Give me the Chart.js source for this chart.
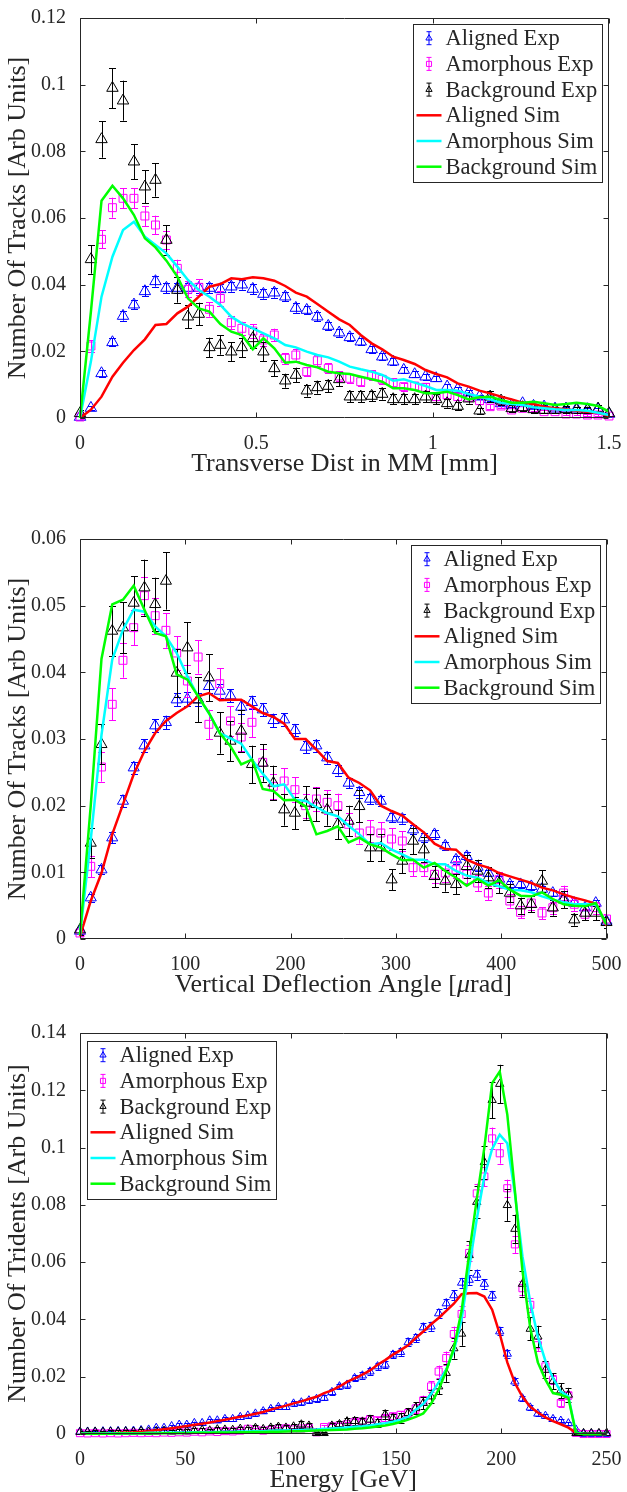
<!DOCTYPE html>
<html>
<head>
<meta charset="utf-8">
<script src="https://cdn.jsdelivr.net/npm/chart.js@4.4.0/dist/chart.umd.min.js"></script>
<style>
html,body{margin:0;padding:0;background:#fff;width:627px;height:1492px;overflow:hidden}
canvas{position:absolute;left:0;display:block}
</style>
</head>
<body>
<canvas id="c1" width="627" height="500" style="top:0"></canvas>
<canvas id="c2" width="627" height="500" style="top:500px"></canvas>
<canvas id="c3" width="627" height="492" style="top:1000px"></canvas>
<script>
// ---------------- Panel 1 data : Transverse distance ----------------
const transDist = [0,0.031,0.061,0.092,0.122,0.153,0.184,0.214,0.245,0.276,0.306,0.337,0.367,0.398,0.429,0.459,0.490,0.520,0.551,0.582,0.612,0.643,0.673,0.704,0.735,0.765,0.796,0.827,0.857,0.888,0.918,0.949,0.980,1.010,1.041,1.071,1.102,1.133,1.163,1.194,1.224,1.255,1.286,1.316,1.347,1.378,1.408,1.439,1.469,1.5];
const alignedExp1 = [0.0003,0.003,0.0134,0.0227,0.0306,0.034,0.038,0.041,0.039,0.039,0.039,0.039,0.039,0.0386,0.0394,0.040,0.0387,0.0372,0.0376,0.0364,0.033,0.0324,0.0304,0.0276,0.0256,0.0242,0.0229,0.0206,0.0184,0.0169,0.0144,0.0131,0.0124,0.0119,0.0094,0.0086,0.0076,0.0064,0.0056,0.0044,0.0038,0.0044,0.0036,0.0034,0.0028,0.0028,0.0028,0.0026,0.0026,0.0012];
const alignedErr1 = [0.0003,0.0006,0.001,0.0012,0.0014,0.0014,0.0015,0.0016,0.0015,0.0015,0.0015,0.0015,0.0015,0.0015,0.0015,0.0015,0.0015,0.0014,0.0015,0.0014,0.0014,0.0013,0.0013,0.0013,0.0012,0.0012,0.0011,0.0011,0.001,0.001,0.0009,0.0009,0.0009,0.0008,0.0008,0.0007,0.0007,0.0006,0.0006,0.0005,0.0005,0.0005,0.0005,0.0005,0.0004,0.0004,0.0004,0.0004,0.0004,0.0003];
const amorphExp1 = [0.0003,0.0216,0.0536,0.0631,0.0659,0.0659,0.0606,0.0579,0.0534,0.0449,0.0386,0.0392,0.0326,0.0359,0.0286,0.0269,0.0261,0.0234,0.0249,0.0179,0.0189,0.0139,0.0172,0.0149,0.0126,0.0119,0.0109,0.0129,0.0116,0.0106,0.0094,0.0096,0.0092,0.0064,0.0069,0.0064,0.0062,0.0052,0.0034,0.0036,0.0024,0.0029,0.0029,0.0019,0.0019,0.0012,0.0012,0.0009,0.0009,0.0006];
const amorphErr1 = [0.0005,0.0018,0.0027,0.003,0.003,0.003,0.003,0.0028,0.0028,0.0026,0.0024,0.0024,0.0022,0.0023,0.002,0.002,0.002,0.0019,0.0019,0.0016,0.0017,0.0014,0.0016,0.0015,0.0014,0.0013,0.0013,0.0014,0.0013,0.0013,0.0012,0.0012,0.0012,0.001,0.001,0.001,0.001,0.0009,0.0007,0.0007,0.0006,0.0007,0.0007,0.0005,0.0005,0.0004,0.0004,0.0004,0.0004,0.0003];
const bgExp1 = [0.0014,0.0476,0.0836,0.099,0.0952,0.0769,0.0694,0.0714,0.0534,0.0384,0.0304,0.0312,0.0212,0.0219,0.0199,0.0212,0.0239,0.0199,0.0149,0.0112,0.0129,0.0082,0.0092,0.0096,0.0116,0.0064,0.0064,0.0066,0.0072,0.0056,0.0056,0.0056,0.0064,0.0056,0.0044,0.0036,0.0058,0.0022,0.0064,0.0052,0.0029,0.0032,0.0026,0.0024,0.0024,0.0026,0.0024,0.0024,0.0028,0.0014];
const bgErr1 = [0.001,0.0043,0.0055,0.006,0.006,0.0052,0.005,0.005,0.0044,0.0038,0.0034,0.0034,0.0029,0.0029,0.0028,0.0029,0.003,0.0028,0.0024,0.0021,0.0022,0.0018,0.0019,0.0019,0.0021,0.0016,0.0016,0.0016,0.0017,0.0015,0.0015,0.0015,0.0016,0.0015,0.0013,0.0012,0.0015,0.0009,0.0016,0.0014,0.0011,0.0011,0.001,0.001,0.001,0.001,0.001,0.001,0.0011,0.0008];
const alignedSim1 = [0,0.0025,0.0064,0.0124,0.0166,0.0204,0.0236,0.0279,0.0282,0.0314,0.0334,0.0364,0.0394,0.0402,0.0419,0.0416,0.0422,0.0419,0.0412,0.0396,0.0376,0.0364,0.0342,0.0319,0.0296,0.0279,0.0249,0.0224,0.0206,0.0184,0.0174,0.0162,0.0144,0.0132,0.0122,0.0104,0.0094,0.0082,0.0074,0.0064,0.0056,0.0046,0.0042,0.0034,0.0029,0.0026,0.0022,0.0019,0.0016,0.0006];
const amorphSim1 = [0,0.017,0.0364,0.0484,0.0564,0.0589,0.0544,0.0519,0.0494,0.0454,0.0414,0.0384,0.0364,0.0339,0.0304,0.0284,0.0269,0.0254,0.0239,0.0219,0.0212,0.0199,0.0189,0.0182,0.0169,0.0154,0.0146,0.0139,0.0129,0.0112,0.0116,0.0106,0.0096,0.0084,0.0084,0.0082,0.0072,0.0064,0.0056,0.0046,0.0042,0.0039,0.0032,0.0029,0.0026,0.0024,0.0024,0.0022,0.0016,0.0009];
const bgSim1 = [0,0.032,0.0652,0.0697,0.0659,0.0609,0.0539,0.0512,0.0472,0.0424,0.0359,0.0329,0.0319,0.0282,0.0259,0.0249,0.0206,0.0239,0.0209,0.0166,0.0169,0.0159,0.0152,0.0139,0.0134,0.0132,0.0124,0.0116,0.0109,0.0089,0.0089,0.0084,0.0074,0.0074,0.0079,0.0069,0.0056,0.0062,0.0064,0.0054,0.0046,0.0046,0.0049,0.0044,0.0039,0.0042,0.0046,0.0042,0.0036,0.0019];
const xTicks1 = [0,0.5,1,1.5];
const xTickLabels1 = ['0','0.5','1','1.5'];
const yTicks1 = [0,0.02,0.04,0.06,0.08,0.1,0.12];
const yTickLabels1 = ['0','0.02','0.04','0.06','0.08','0.1','0.12'];

// ---------------- Panel 2 data : Vertical deflection angle ----------------
const deflAngle = [0,10.2,20.4,30.6,40.8,51.0,61.2,71.4,81.6,91.8,102.0,112.2,122.4,132.7,142.9,153.1,163.3,173.5,183.7,193.9,204.1,214.3,224.5,234.7,244.9,255.1,265.3,275.5,285.7,295.9,306.1,316.3,326.5,336.7,346.9,357.1,367.3,377.6,387.8,398.0,408.2,418.4,428.6,438.8,449.0,459.2,469.4,479.6,489.8,500];
const alignedExp2 = [0.0012,0.0062,0.0104,0.0152,0.0207,0.0257,0.029,0.032,0.0325,0.0359,0.036,0.0359,0.0379,0.0372,0.0365,0.0348,0.0355,0.0344,0.0328,0.0329,0.0313,0.0288,0.029,0.0272,0.0253,0.0234,0.022,0.021,0.0207,0.0182,0.018,0.0164,0.0152,0.0157,0.014,0.0119,0.0124,0.0108,0.0099,0.009,0.0082,0.0082,0.0079,0.0075,0.0069,0.0062,0.0054,0.0047,0.0054,0.0027];
const alignedErr2 = [0.0004,0.0006,0.0007,0.0008,0.0009,0.0009,0.001,0.001,0.001,0.001,0.001,0.001,0.001,0.001,0.001,0.001,0.001,0.001,0.001,0.001,0.0009,0.0009,0.0009,0.0009,0.0008,0.0008,0.0008,0.0008,0.0008,0.0007,0.0007,0.0007,0.0007,0.0007,0.0006,0.0006,0.0006,0.0006,0.0005,0.0005,0.0005,0.0005,0.0005,0.0005,0.0005,0.0004,0.0004,0.0004,0.0004,0.0003];
const amorphExp2 = [0.0009,0.0109,0.0258,0.0352,0.0418,0.0467,0.0515,0.0485,0.0463,0.0429,0.0387,0.0423,0.0322,0.0383,0.0327,0.0303,0.0325,0.0265,0.0229,0.0237,0.0224,0.02,0.021,0.0205,0.02,0.0172,0.0159,0.0162,0.0159,0.015,0.0147,0.0107,0.0107,0.0097,0.0099,0.0104,0.0097,0.0084,0.0069,0.0089,0.0057,0.004,0.0054,0.0039,0.0047,0.0069,0.0052,0.0037,0.0047,0.003];
const amorphErr2 = [0.0005,0.0016,0.0022,0.0024,0.0026,0.0026,0.0028,0.0027,0.0026,0.0025,0.0024,0.0025,0.0022,0.0023,0.0022,0.0021,0.0022,0.002,0.0019,0.0019,0.0019,0.0018,0.0018,0.0018,0.0018,0.0017,0.0016,0.0016,0.0016,0.0016,0.0015,0.0013,0.0013,0.0013,0.0013,0.0013,0.0013,0.0012,0.0011,0.0012,0.001,0.0009,0.001,0.0009,0.0009,0.0011,0.001,0.0008,0.0009,0.0008];
const bgExp2 = [0.0014,0.0144,0.0292,0.0462,0.0467,0.0504,0.0527,0.0502,0.0537,0.0399,0.0437,0.0359,0.0392,0.0309,0.0297,0.0312,0.0262,0.0264,0.0234,0.0194,0.0189,0.0204,0.0202,0.0194,0.0172,0.0177,0.0199,0.0137,0.0137,0.0089,0.0117,0.0147,0.0134,0.0094,0.0087,0.0082,0.0109,0.0102,0.0092,0.0084,0.0069,0.005,0.0052,0.0087,0.0047,0.0059,0.0029,0.0039,0.0039,0.0025];
const bgErr2 = [0.0008,0.0022,0.003,0.0038,0.0038,0.004,0.0042,0.004,0.0043,0.0036,0.0038,0.0034,0.0035,0.0031,0.003,0.0031,0.0028,0.0028,0.0026,0.0024,0.0024,0.0025,0.0025,0.0024,0.0022,0.0023,0.0024,0.002,0.002,0.0016,0.0018,0.002,0.0019,0.0016,0.0016,0.0015,0.0017,0.0017,0.0016,0.0015,0.0014,0.0012,0.0012,0.0016,0.0012,0.0013,0.0009,0.0011,0.0011,0.0008];
const alignedSim2 = [0.0004,0.0057,0.0099,0.0157,0.0202,0.0247,0.0282,0.0309,0.0327,0.0339,0.0349,0.0364,0.0369,0.0358,0.0359,0.0359,0.0349,0.0339,0.0333,0.0323,0.03,0.03,0.0284,0.0267,0.0264,0.0242,0.0234,0.0223,0.02,0.0192,0.0185,0.0172,0.016,0.0143,0.0135,0.0134,0.0119,0.0112,0.0107,0.0099,0.0094,0.0089,0.0084,0.0077,0.0073,0.0067,0.0062,0.0058,0.0053,0.002];
const amorphSim2 = [0.0006,0.0149,0.0306,0.0419,0.0464,0.0494,0.0491,0.0469,0.0454,0.0429,0.0394,0.0364,0.0339,0.0309,0.0301,0.0293,0.0269,0.0248,0.0229,0.0232,0.0209,0.0207,0.0198,0.0189,0.0184,0.017,0.0157,0.0142,0.0144,0.0134,0.0127,0.0119,0.0119,0.0112,0.0112,0.0102,0.0095,0.0092,0.0084,0.0079,0.0074,0.0073,0.007,0.0064,0.0059,0.0055,0.0052,0.0052,0.0052,0.0022];
const bgSim2 = [0.0006,0.02,0.042,0.0502,0.0509,0.053,0.0494,0.0459,0.0454,0.0397,0.0389,0.0364,0.0339,0.0309,0.0289,0.0262,0.0269,0.0225,0.0222,0.0208,0.0209,0.0199,0.0157,0.0162,0.0169,0.0145,0.0152,0.0142,0.0137,0.0127,0.0118,0.0119,0.0107,0.0114,0.0102,0.0092,0.008,0.009,0.008,0.0088,0.0074,0.0065,0.0064,0.007,0.006,0.0052,0.005,0.0049,0.0054,0.0022];
const xTicks2 = [0,100,200,300,400,500];
const xTickLabels2 = ['0','100','200','300','400','500'];
const yTicks2 = [0,0.01,0.02,0.03,0.04,0.05,0.06];
const yTickLabels2 = ['0','0.01','0.02','0.03','0.04','0.05','0.06'];

// ---------------- Panel 3 data : Energy ----------------
const energy = [0,3.6,7.2,10.9,14.5,18.1,21.7,25.4,29.0,32.6,36.2,39.9,43.5,47.1,50.7,54.3,58.0,61.6,65.2,68.8,72.5,76.1,79.7,83.3,87.0,90.6,94.2,97.8,101.4,105.1,108.7,112.3,115.9,119.6,123.2,126.8,130.4,134.1,137.7,141.3,144.9,148.6,152.2,155.8,159.4,163.0,166.7,170.3,173.9,177.5,181.2,184.8,188.4,192.0,195.7,199.3,202.9,206.5,210.1,213.8,217.4,221.0,224.6,228.3,231.9,235.5,239.1,242.8,246.4,250.0];
const alignedExp3 = [0.0008,0.0008,0.0008,0.0009,0.0009,0.001,0.001,0.0011,0.0013,0.0015,
  0.0021,0.0021,0.0027,0.0032,0.0032,0.0038,0.0038,0.0047,0.0047,0.0052,
  0.0052,0.0059,0.0064,0.0071,0.0079,0.0087,0.0094,0.0094,0.0106,0.011,
  0.0117,0.0122,0.0126,0.0146,0.0166,0.0172,0.0195,0.0204,0.0218,0.0236,
  0.0242,0.0277,0.0286,0.032,0.0335,0.0372,0.0375,0.0421,0.0456,0.0484,
  0.0528,0.0538,0.0556,0.0524,0.0483,0.0358,0.028,0.0183,0.0124,0.0092,
  0.0071,0.0063,0.0052,0.0046,0.0037,0.0015,0,0,0,0];
const alignedErr3 = [0.0003,0.0003,0.0003,0.0003,0.0003,0.0003,0.0003,0.0003,0.0004,0.0004,
  0.0004,0.0004,0.0005,0.0005,0.0005,0.0005,0.0005,0.0006,0.0006,0.0006,
  0.0006,0.0006,0.0007,0.0007,0.0007,0.0008,0.0008,0.0008,0.0008,0.0009,
  0.0009,0.0009,0.0009,0.001,0.001,0.001,0.0011,0.0011,0.0011,0.0012,
  0.0012,0.0013,0.0013,0.0014,0.0014,0.0015,0.0015,0.0016,0.0016,0.0017,
  0.0017,0.0017,0.0018,0.0017,0.0016,0.0014,0.0013,0.0011,0.0009,0.0008,
  0.0007,0.0006,0.0006,0.0005,0.0005,0.0003,0,0,0,0];
const amorphExp3 = [0.0003,0.0002,0.0003,0.0002,0.0003,0.0002,0.0003,0.0004,0.0003,0.0004,
  0.0003,0.0005,0.0004,0.0006,0.0005,0.0008,0.0006,0.0009,0.0007,0.001,
  0.0009,0.0012,0.0018,0.0015,0.0012,0.0014,0.0018,0.002,0.0016,0.0019,
  0.0021,0.0006,0.0024,0.0027,0.003,0.0034,0.0042,0.0044,0.0052,0.0048,
  0.0056,0.0062,0.0067,0.0073,0.0089,0.0117,0.0166,0.0218,0.0265,0.0349,
  0.0419,0.0632,0.084,0.0899,0.1032,0.098,0.0858,0.0662,0.0509,0.0451,
  0.031,0.0236,0.0189,0.0108,0.0135,0.0004,0,0,0,0];
const amorphErr3 = [0.0003,0.0003,0.0003,0.0003,0.0003,0.0003,0.0003,0.0003,0.0003,0.0003,
  0.0003,0.0003,0.0003,0.0004,0.0004,0.0004,0.0004,0.0004,0.0004,0.0005,
  0.0005,0.0005,0.0006,0.0006,0.0005,0.0006,0.0006,0.0007,0.0006,0.0007,
  0.0007,0.0004,0.0007,0.0008,0.0008,0.0009,0.001,0.001,0.0011,0.0011,
  0.0012,0.0012,0.0013,0.0013,0.0015,0.0017,0.0019,0.0021,0.0023,0.0026,
  0.0028,0.0028,0.0034,0.0034,0.0038,0.0036,0.003,0.003,0.0025,0.0024,
  0.002,0.0018,0.0016,0.0012,0.0013,0.0003,0,0,0,0];
const bgExp3 = [0.0007,0.0007,0.0008,0.0007,0.0008,0.0008,0.0009,0.0008,0.001,0.0008,
  0.001,0.0011,0.0009,0.0012,0.0011,0.0013,0.0014,0.0012,0.0016,0.0015,
  0.0014,0.0018,0.0016,0.0021,0.0017,0.0022,0.0025,0.0022,0.0026,0.0033,
  0.0029,0.0003,0.0003,0.0029,0.0034,0.0044,0.0045,0.0043,0.005,0.0038,
  0.0068,0.0055,0.0056,0.0073,0.0091,0.0108,0.0131,0.0166,0.0213,0.0299,
  0.035,0.0624,0.081,0.0949,0.1166,0.1222,0.0799,0.0716,0.0524,0.0367,
  0.034,0.0224,0.0184,0.0152,0.0137,0.0003,0.0003,0.0003,0.0003,0.0003];
const bgErr3 = [0.0005,0.0005,0.0005,0.0005,0.0005,0.0005,0.0006,0.0005,0.0006,0.0005,
  0.0006,0.0006,0.0006,0.0007,0.0006,0.0007,0.0007,0.0006,0.0008,0.0007,
  0.0007,0.0008,0.0008,0.0009,0.0008,0.0009,0.001,0.0009,0.001,0.0011,
  0.0011,0.0003,0.0003,0.0011,0.0012,0.0013,0.0014,0.0013,0.0015,0.0013,
  0.0017,0.0015,0.0016,0.0018,0.002,0.0022,0.0024,0.0027,0.0031,0.0036,
  0.0042,0.005,0.0055,0.0057,0.0064,0.0067,0.0055,0.005,0.0044,0.004,
  0.0038,0.003,0.0028,0.0026,0.0024,0.0003,0.0003,0.0003,0.0003,0.0003];
const alignedSim3 = [0.0002,0.0002,0.0003,0.0003,0.0003,0.0004,0.0005,0.0006,0.0008,0.001,
  0.0013,0.0017,0.002,0.0024,0.0028,0.0032,0.0036,0.004,0.0045,0.005,
  0.0055,0.006,0.0065,0.0071,0.0077,0.0085,0.0092,0.0099,0.0107,0.0114,
  0.0122,0.013,0.0143,0.0152,0.0166,0.0182,0.0194,0.0207,0.0222,0.0242,
  0.0258,0.0277,0.0293,0.031,0.0335,0.0358,0.0383,0.0405,0.043,0.0455,
  0.0488,0.0491,0.0492,0.048,0.0434,0.035,0.025,0.0178,0.013,0.0095,
  0.0075,0.0058,0.0045,0.0034,0.0022,0.0004,0,0,0,0];
const amorphSim3 = [0.0002,0.0002,0.0002,0.0002,0.0003,0.0003,0.0003,0.0003,0.0003,0.0004,
  0.0004,0.0004,0.0005,0.0005,0.0005,0.0006,0.0006,0.0007,0.0007,0.0008,
  0.0008,0.0009,0.0009,0.001,0.001,0.0011,0.0012,0.0012,0.0013,0.0014,
  0.0015,0.0016,0.0018,0.0019,0.0021,0.0023,0.0025,0.0027,0.003,0.0034,
  0.0038,0.0043,0.005,0.006,0.0085,0.0105,0.014,0.018,0.0225,0.029,
  0.04,0.058,0.075,0.09,0.0995,0.1045,0.1015,0.084,0.062,0.046,
  0.034,0.0255,0.0195,0.0148,0.0131,0.0005,0,0,0,0];
const bgSim3 = [0.0001,0.0001,0.0001,0.0001,0.0001,0.0002,0.0002,0.0002,0.0002,0.0002,
  0.0002,0.0003,0.0003,0.0003,0.0003,0.0004,0.0004,0.0004,0.0005,0.0005,
  0.0005,0.0006,0.0006,0.0007,0.0007,0.0008,0.0008,0.0009,0.001,0.001,
  0.0011,0.0012,0.0013,0.0014,0.0015,0.0016,0.0018,0.002,0.0023,0.0026,
  0.003,0.0035,0.0042,0.005,0.006,0.0072,0.0105,0.0155,0.022,0.03,
  0.043,0.063,0.082,0.1,0.1225,0.1265,0.1115,0.085,0.057,0.037,
  0.025,0.019,0.0143,0.0137,0.0126,0.0003,0,0,0,0];
const xTicks3 = [0,50,100,150,200,250];
const xTickLabels3 = ['0','50','100','150','200','250'];
const yTicks3 = [0,0.02,0.04,0.06,0.08,0.1,0.12,0.14];
const yTickLabels3 = ['0','0.02','0.04','0.06','0.08','0.1','0.12','0.14'];

const seriesLabels = ['Aligned Exp','Amorphous Exp','Background Exp','Aligned Sim','Amorphous Sim','Background Sim'];

// ---------------- rendering ----------------
const TXT = '#262626';
const FONT = "'Liberation Serif', 'Times New Roman', serif";
const TITLE_SIZE = 26;
Chart.defaults.font.family = FONT;
Chart.defaults.color = TXT;

function checkLen(name, xs, arrs) {
  arrs.forEach((a, i) => { if (a.length !== xs.length) throw new Error(name + ' array ' + i + ' has ' + a.length + ' vs ' + xs.length); });
}

function pts(xs, ys) { return xs.map((x, i) => ({ x: x, y: ys[i] })); }

function expSet(label, xs, ys, errs, color, style, r) {
  return { label, data: pts(xs, ys), errors: errs, borderColor: color, backgroundColor: 'rgba(0,0,0,0)',
    pointStyle: style, pointRadius: r, pointBorderWidth: 1, pointBorderColor: color,
    pointBackgroundColor: 'rgba(0,0,0,0)', showLine: false, clip: false, isSim: false };
}
function simSet(label, xs, ys, color) {
  return { label, data: pts(xs, ys), borderColor: color, backgroundColor: color, borderWidth: 2.5,
    pointRadius: 0, showLine: true, tension: 0, clip: false, isSim: true };
}

function makePanel(id, p) {
  checkLen(id, p.xs, p.series.map(s => s[0]).concat(p.series.filter(s => s[1]).map(s => s[1])));
  const colors = ['#0000ff', '#ff00ff', '#000000', '#ff0000', '#00ffff', '#00ff00'];
  const styles = ['triangle', 'rect', 'triangle'];
  const radii = [p.triR, p.rectR, p.triR];
  const sets = p.series.map((s, i) => i < 3
    ? expSet(seriesLabels[i], p.xs, s[0], s[1], colors[i], styles[i], radii[i])
    : simSet(seriesLabels[i], p.xs, s[0], colors[i]));
  const datasets = sets.slice().reverse(); // first listed drawn on top in Chart.js

  const errPlugin = {
    id: 'errbars',
    beforeDatasetDraw(chart, args) {
      const ds = chart.data.datasets[args.index];
      if (!ds.errors) return;
      const xs = chart.scales.x, ys = chart.scales.y, ctx = chart.ctx, a = chart.chartArea;
      ctx.save();
      ctx.beginPath(); ctx.rect(a.left, a.top - 2, a.width, a.height + 4); ctx.clip();
      ctx.strokeStyle = ds.borderColor; ctx.lineWidth = 1;
      ctx.beginPath();
      ds.data.forEach((pt, i) => {
        const e = ds.errors[i];
        const px = Math.round(xs.getPixelForValue(pt.x)) + 0.5;
        const y1 = ys.getPixelForValue(pt.y - e), y2 = ys.getPixelForValue(pt.y + e);
        ctx.moveTo(px, y1); ctx.lineTo(px, y2);
        ctx.moveTo(px - p.cap, Math.round(y1) + 0.5); ctx.lineTo(px + p.cap, Math.round(y1) + 0.5);
        ctx.moveTo(px - p.cap, Math.round(y2) + 0.5); ctx.lineTo(px + p.cap, Math.round(y2) + 0.5);
      });
      ctx.stroke();
      ctx.restore();
    }
  };

  const boxPlugin = {
    id: 'axbox',
    afterDatasetsDraw(chart) {
      const { ctx, chartArea: a, scales: { x, y } } = chart;
      ctx.save();
      ctx.strokeStyle = TXT; ctx.lineWidth = 1;
      ctx.beginPath();
      const L = Math.round(a.left) + 0.5, R = Math.round(a.right) - 0.5, T = Math.round(a.top) + 0.5, B = Math.round(a.bottom) - 0.5;
      x.ticks.forEach(t => {
        const px = Math.round(x.getPixelForValue(t.value)) + 0.5;
        ctx.moveTo(px, B); ctx.lineTo(px, B - 5);
        ctx.moveTo(px, T); ctx.lineTo(px, T + 5);
      });
      y.ticks.forEach(t => {
        const py = Math.round(y.getPixelForValue(t.value)) + 0.5;
        ctx.moveTo(L, py); ctx.lineTo(L + 5, py);
        ctx.moveTo(R, py); ctx.lineTo(R - 5, py);
      });
      ctx.rect(L, T, R - L, B - T);
      ctx.stroke();
      ctx.restore();
    },
    afterDraw(chart) {
      const { ctx, chartArea: a } = chart;
      // x-axis title drawn as mixed-style text (upright + italic parts)
      ctx.save();
      ctx.fillStyle = TXT; ctx.textBaseline = 'middle'; ctx.textAlign = 'left';
      const parts = p.xTitleParts;
      const fontOf = st => (st === 'i' ? 'italic ' : '') + TITLE_SIZE + 'px ' + FONT;
      let total = 0;
      parts.forEach(pt => { ctx.font = fontOf(pt[1]); total += ctx.measureText(pt[0]).width; });
      let tx = (a.left + a.right) / 2 - total / 2;
      const ty = a.bottom + p.xTitleOffset;
      parts.forEach(pt => { ctx.font = fontOf(pt[1]); ctx.fillText(pt[0], tx, ty); tx += ctx.measureText(pt[0]).width; });
      ctx.restore();

      const g = p.legend;
      const W = 189, H = 158;
      const L = Math.round(g.anchor === 'right' ? a.right - g.dx - W : a.left + g.dx) + 0.5;
      const T = Math.round(a.top + g.dy) + 0.5;
      ctx.save();
      ctx.fillStyle = '#fff'; ctx.fillRect(L, T, W, H);
      ctx.strokeStyle = TXT; ctx.lineWidth = 1; ctx.strokeRect(L, T, W, H);
      sets.forEach((ds, i) => {
        const cy = T + 13.7 + i * 25.7;
        const ix = L + 15.5;
        ctx.strokeStyle = ds.borderColor;
        if (ds.isSim) {
          ctx.lineWidth = 2.5;
          ctx.beginPath(); ctx.moveTo(L + 3, cy); ctx.lineTo(L + 28, cy); ctx.stroke();
        } else {
          ctx.lineWidth = 1;
          ctx.beginPath();
          ctx.moveTo(ix, cy - 6.5); ctx.lineTo(ix, cy + 6.5);
          ctx.moveTo(ix - 2.5, cy - 6.5); ctx.lineTo(ix + 2.5, cy - 6.5);
          ctx.moveTo(ix - 2.5, cy + 6.5); ctx.lineTo(ix + 2.5, cy + 6.5);
          ctx.stroke();
          ctx.fillStyle = 'rgba(0,0,0,0)';
          Chart.helpers.drawPoint(ctx, { pointStyle: ds.pointStyle, radius: 3.6, borderWidth: 1, rotation: 0 }, ix, cy);
        }
        ctx.fillStyle = TXT;
        ctx.font = '22.5px ' + FONT;
        ctx.textBaseline = 'middle'; ctx.textAlign = 'left';
        ctx.fillText(ds.label, L + 32, cy + 1);
      });
      ctx.restore();
    }
  };

  return new Chart(document.getElementById(id), {
    type: 'scatter',
    data: { datasets },
    options: {
      responsive: false, animation: false, events: [],
      layout: { padding: { top: p.padTop, right: 16, left: 0, bottom: 0 } },
      plugins: { legend: { display: false }, tooltip: { enabled: false } },
      scales: {
        x: {
          type: 'linear', min: p.xTicks[0], max: p.xTicks[p.xTicks.length - 1],
          grid: { display: false }, border: { display: false },
          afterBuildTicks: ax => { ax.ticks = p.xTicks.map(v => ({ value: v })); },
          afterFit: ax => { ax.height = p.xAxisH; },
          ticks: { callback: (v, i) => p.xTickLabels[i], font: { size: 20 }, color: TXT, padding: 5.5, maxRotation: 0, autoSkip: false },
          title: { display: false }
        },
        y: {
          type: 'linear', min: p.yTicks[0], max: p.yTicks[p.yTicks.length - 1],
          grid: { display: false }, border: { display: false },
          afterBuildTicks: ax => { ax.ticks = p.yTicks.map(v => ({ value: v })); },
          afterFit: ax => { ax.width = 80; },
          ticks: { callback: (v, i) => p.yTickLabels[i], font: { size: 20 }, color: TXT, padding: 6, autoSkip: false },
          title: { display: true, text: p.yTitle, color: TXT, font: { size: TITLE_SIZE, lineHeight: 1 }, padding: { top: 5, bottom: 0 } }
        }
      }
    },
    plugins: [errPlugin, boxPlugin]
  });
}

makePanel('c1', {
  xs: transDist,
  series: [[alignedExp1, alignedErr1], [amorphExp1, amorphErr1], [bgExp1, bgErr1], [alignedSim1], [amorphSim1], [bgSim1]],
  xTicks: xTicks1, xTickLabels: xTickLabels1, yTicks: yTicks1, yTickLabels: yTickLabels1,
  xTitleParts: [['Transverse Dist in MM [mm]', 'n']], xTitleOffset: 46.5, yTitle: 'Number Of Tracks [Arb Units]',
  padTop: 18, xAxisH: 82, triR: 6.6, rectR: 5.6, cap: 3.5,
  legend: { anchor: 'right', dx: 7, dy: 6 }
});
makePanel('c2', {
  xs: deflAngle,
  series: [[alignedExp2, alignedErr2], [amorphExp2, amorphErr2], [bgExp2, bgErr2], [alignedSim2], [amorphSim2], [bgSim2]],
  xTicks: xTicks2, xTickLabels: xTickLabels2, yTicks: yTicks2, yTickLabels: yTickLabels2,
  xTitleParts: [['Vertical Deflection Angle [', 'n'], ['\u03bc', 'i'], ['rad]', 'n']], xTitleOffset: 46.5, yTitle: 'Number Of Tracks [Arb Units]',
  padTop: 39, xAxisH: 61, triR: 6.4, rectR: 5.6, cap: 3.5,
  legend: { anchor: 'right', dx: 7, dy: 6 }
});
makePanel('c3', {
  xs: energy,
  series: [[alignedExp3, alignedErr3], [amorphExp3, amorphErr3], [bgExp3, bgErr3], [alignedSim3], [amorphSim3], [bgSim3]],
  xTicks: xTicks3, xTickLabels: xTickLabels3, yTicks: yTicks3, yTickLabels: yTickLabels3,
  xTitleParts: [['Energy [GeV]', 'n']], xTitleOffset: 46, yTitle: 'Number Of Tridents [Arb Units]',
  padTop: 33, xAxisH: 58, triR: 4.8, rectR: 5, cap: 3,
  legend: { anchor: 'left', dx: 7, dy: 7.5 }
});
</script>
</body>
</html>
